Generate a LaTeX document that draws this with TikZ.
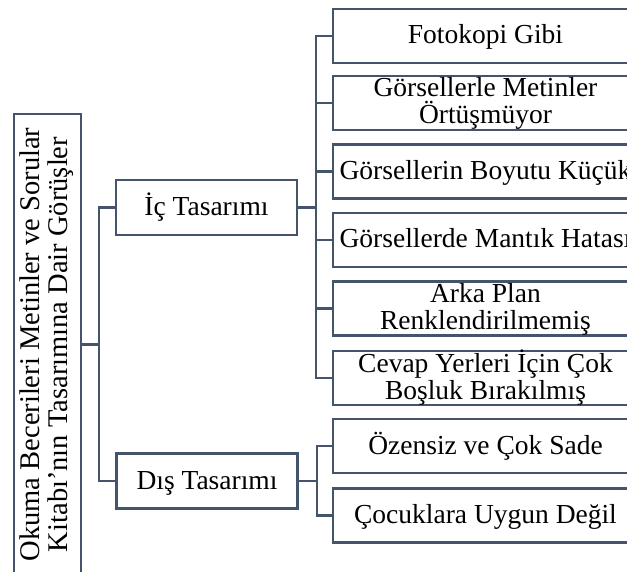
\documentclass[tikz,border=0pt]{standalone}
\usepackage{graphicx}
\usepackage{fontspec}
\setmainfont{Liberation Serif}
\definecolor{boxline}{HTML}{44546A}
\tikzset{every picture/.append style={x=1pt, y=-1pt}}
\tikzset{
    every node/.style={draw=boxline, line width=2.3pt, text=black, inner sep=0pt,
    	align=center, font=\fontsize{27.5}{27}\selectfont},
    oneline/.style={text height=35pt, text depth=19pt},
    twoline/.style={text height=48pt, text depth=6pt},
    leaf/.style={minimum width=305pt, minimum height=54pt},
    mid/.style={minimum width=181pt, minimum height=55pt, oneline}
}

\begin{document}
\begin{tikzpicture}[boxline, line width=2.3pt]
  \useasboundingbox (0,0) rectangle (627,572);

  \node (k) [minimum width=67pt, minimum height=461pt,
    font=\fontsize{28.5}{28}\selectfont] at (47.5, 344.5)
    {\rotatebox{90}{\begin{tabular}{@{}c@{}}Okuma Becerileri Metinler ve Sorular\\
      Kitabı'nın Tasarımına Dair Görüşler\end{tabular}}};

  \node (ic) [mid] at (206.5, 207.5) {İç Tasarımı};
  \node (dis) [mid] at (207, 481) {Dış Tasarımı};

  \node (a1) [leaf, oneline] at (485.5, 36) {Fotokopi Gibi};
  \node (a2) [leaf, twoline] at (485.5, 103) {Görsellerle Metinler\\Örtüşmüyor};
  \node (a3) [leaf, oneline] at (485.5, 171.5) {Görsellerin Boyutu Küçük};
  \node (a4) [leaf, oneline] at (485.5, 240) {Görsellerde Mantık Hatası};
  \node (a5) [leaf, twoline] at (485.5, 308.5) {Arka Plan\\Renklendirilmemiş};
  \node (a6) [leaf, twoline] at (485.5, 378) {Cevap Yerleri İçin Çok\\Boşluk Bırakılmış};

  \node (b1) [leaf, oneline] at (485.5, 446) {Özensiz ve Çok Sade};
  \node (b2) [leaf, oneline] at (485.5, 515.5) {Çocuklara Uygun Değil};

  \draw (k.east) -- ++(17,0) |- (ic.west);
  \draw (k.east) -- ++(17,0) |- (dis.west);

  \draw (ic.east) -- ++(18,0) |- (a1.west);
  \draw (ic.east) -- ++(18,0) |- (a2.west);
  \draw (ic.east) -- ++(18,0) |- (a3.west);
  \draw (ic.east) -- ++(18,0) |- (a4.west);
  \draw (ic.east) -- ++(18,0) |- (a5.west);
  \draw (ic.east) -- ++(18,0) |- (a6.west);

  \draw (dis.east) -- ++(18,0) |- (b1.west);
  \draw (dis.east) -- ++(18,0) |- (b2.west);
\end{tikzpicture}
\end{document}
